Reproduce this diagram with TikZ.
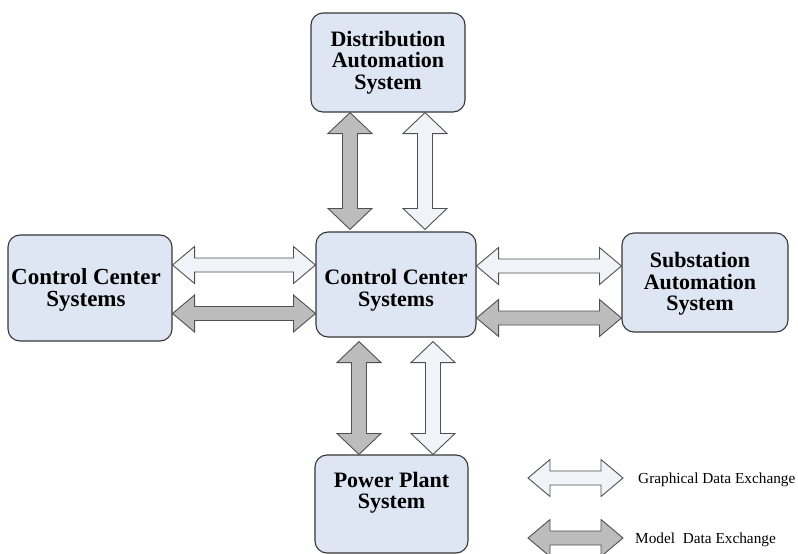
\documentclass[tikz,border=0pt]{standalone}
\usepackage{fontspec}
\setmainfont{Liberation Serif}
\usetikzlibrary{calc}
\definecolor{boxfill}{RGB}{221,230,242}
\definecolor{lightarr}{RGB}{240,243,248}
\definecolor{darkarr}{RGB}{188,188,188}
\definecolor{edgecol}{RGB}{55,55,55}
\definecolor{arredge}{RGB}{80,80,80}
\newcommand\hdblarrow[3]{%
  \draw[#1] let \p1=(#2), \p2=(#3) in
   (\x1,\y1) -- (\x1+22pt,\y1+18.5pt) -- (\x1+22pt,\y1+7pt) -- (\x2-22pt,\y1+7pt)
   -- (\x2-22pt,\y1+18.5pt) -- (\x2,\y1) -- (\x2-22pt,\y1-18.5pt) -- (\x2-22pt,\y1-7pt)
   -- (\x1+22pt,\y1-7pt) -- (\x1+22pt,\y1-18.5pt) -- cycle;}
\newcommand\vdblarrow[3]{%
  \draw[#1] let \p1=(#2), \p2=(#3) in
   (\x1,\y1) -- (\x1+22pt,\y1-21pt) -- (\x1+7.5pt,\y1-21pt) -- (\x1+7.5pt,\y2+21pt)
   -- (\x1+22pt,\y2+21pt) -- (\x1,\y2) -- (\x1-22pt,\y2+21pt) -- (\x1-7.5pt,\y2+21pt)
   -- (\x1-7.5pt,\y1-21pt) -- (\x1-22pt,\y1-21pt) -- cycle;}
\tikzset{
  sysbox/.style={draw=edgecol, line width=1.1pt, fill=boxfill, rounded corners=12pt,
    align=center, inner sep=0pt, font=\fontsize{22}{21.5}\selectfont\bfseries},
  boxtext/.style={align=center, inner sep=0pt, font=\fontsize{22}{21.5}\selectfont\bfseries},
  graph arrow/.style={draw=arredge, line width=0.9pt, fill=lightarr, line join=miter},
  model arrow/.style={draw=arredge, line width=0.9pt, fill=darkarr, line join=miter},
  legendtext/.style={anchor=base west, inner sep=0pt, font=\fontsize{15.3}{17}\selectfont}
}
\begin{document}
\begin{tikzpicture}[x=1pt, y=-1pt]
\fill[white] (0,0) rectangle (798,554);
\useasboundingbox (0,0) rectangle (798,554);

\node[sysbox, minimum width=154pt, minimum height=99pt] (dist) at (388,62.5) {Distribution\\Automation\\System};
\node[sysbox, minimum width=160pt, minimum height=105pt] (cc) at (396,284.5) {};
\node[boxtext] (cct) at (396,290) {Control Center\\Systems};
\node[sysbox, minimum width=164pt, minimum height=106pt] (left) at (90,288) {};
\node[boxtext, font=\fontsize{23}{21.5}\selectfont\bfseries] (leftt) at (86,290) {Control Center\\Systems};
\node[sysbox, minimum width=166pt, minimum height=99pt] (sub) at (705,282.5) {};
\node[boxtext] (subt) at (700,284) {Substation\\Automation\\System};
\node[sysbox, minimum width=153pt, minimum height=98pt] (pp) at (391.5,504) {};
\node[boxtext] (ppt) at (391.5,492.5) {Power Plant\\System};

% top arrows
\coordinate (t1a) at (dist.south -| 350,0);
\coordinate (t1b) at ([yshift=2pt]cc.north -| 350,0);
\coordinate (t2a) at (dist.south -| 425,0);
\coordinate (t2b) at ([yshift=2pt]cc.north -| 425,0);
\vdblarrow{model arrow}{t1a}{t1b}
\vdblarrow{graph arrow}{t2a}{t2b}

% bottom arrows
\coordinate (b1a) at ([yshift=-4pt]cc.south -| 359,0);
\coordinate (b1b) at (pp.north -| 359,0);
\coordinate (b2a) at ([yshift=-4pt]cc.south -| 433,0);
\coordinate (b2b) at (pp.north -| 433,0);
\vdblarrow{model arrow}{b1a}{b1b}
\vdblarrow{graph arrow}{b2a}{b2b}

% left arrows
\coordinate (l1a) at (left.east |- 0,265);
\coordinate (l1b) at (cc.west |- 0,265);
\coordinate (l2a) at (left.east |- 0,313.5);
\coordinate (l2b) at (cc.west |- 0,313.5);
\hdblarrow{graph arrow}{l1a}{l1b}
\hdblarrow{model arrow}{l2a}{l2b}

% right arrows
\coordinate (r1a) at (cc.east |- 0,266);
\coordinate (r1b) at (sub.west |- 0,266);
\coordinate (r2a) at (cc.east |- 0,318);
\coordinate (r2b) at (sub.west |- 0,318);
\hdblarrow{graph arrow}{r1a}{r1b}
\hdblarrow{model arrow}{r2a}{r2b}

% legend
\coordinate (g1) at (528,478);
\coordinate (g2) at (623,478);
\coordinate (m1) at (528,538);
\coordinate (m2) at (623,538);
\hdblarrow{graph arrow}{g1}{g2}
\hdblarrow{model arrow}{m1}{m2}
\node[legendtext] (gl) at (638,483) {Graphical Data Exchange};
\node[legendtext] (ml) at (635,543) {Model\ \ Data Exchange};
\end{tikzpicture}
\end{document}
